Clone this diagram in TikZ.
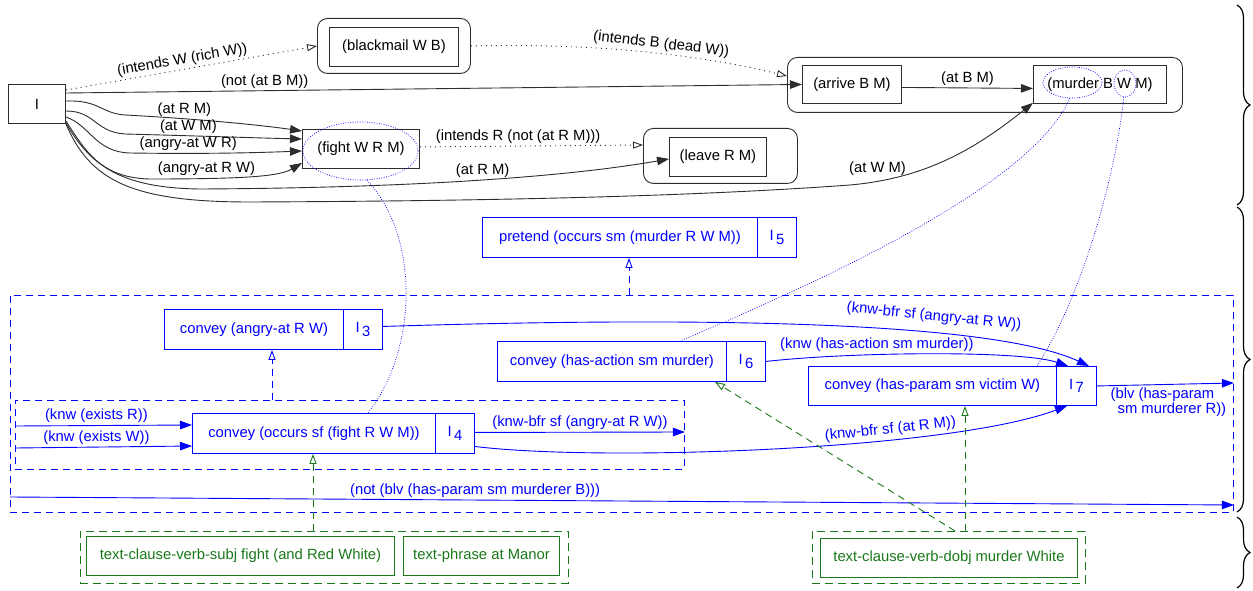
\documentclass[tikz,border=0pt]{standalone}
\usepackage{fontspec}
\setmainfont{Liberation Sans}
\usetikzlibrary{arrows.meta,calc,shapes.geometric,decorations.pathreplacing}
\definecolor{tgreen}{RGB}{25,120,25}
\definecolor{lgray}{RGB}{45,45,45}
\newcommand{\myidx}[1]{I\raisebox{-0.45ex}{\,#1}}
\begin{document}
\begin{tikzpicture}[x=1bp,y=-1bp,
  font=\fontsize{14.8bp}{17bp}\selectfont,
  bx/.style={draw=lgray, line width=0.9bp, inner sep=0, anchor=north west, text=black},
  grp/.style={draw=lgray, line width=0.9bp, rounded corners=10bp, inner sep=0, anchor=north west},
  bbx/.style={draw=blue, line width=0.9bp, inner sep=0, anchor=north west, text=blue},
  gbx/.style={draw=tgreen, line width=0.9bp, inner sep=0, anchor=north west, text=tgreen},
  bdash/.style={draw=blue, dash pattern=on 7bp off 5bp, line width=0.9bp, inner sep=0, anchor=north west},
  gdash/.style={draw=tgreen, dash pattern=on 8bp off 5bp, line width=0.9bp, inner sep=0, anchor=north west},
  ell/.style={ellipse, draw=blue, dash pattern=on 0.8bp off 1.6bp, line width=0.7bp, inner sep=0},
  earr/.style={lgray, line width=0.9bp, -{Triangle[length=12bp,width=8.5bp]}},
  dotarr/.style={lgray, line width=0.9bp, dash pattern=on 1bp off 4bp, -{Triangle[open,length=10bp,width=7bp]}},
  barr/.style={blue, line width=0.9bp, -{Triangle[length=12bp,width=8.5bp]}},
  bdarr/.style={blue, line width=0.9bp, dash pattern=on 7bp off 5bp, -{Triangle[open,length=10bp,width=7bp]}},
  gdarr/.style={tgreen, line width=0.9bp, dash pattern=on 7bp off 5bp, -{Triangle[open,length=10bp,width=7bp]}},
  bdot/.style={blue, line width=0.7bp, dash pattern=on 0.8bp off 1.6bp},
  lbl/.style={inner sep=2bp, text=black},
  blbl/.style={inner sep=2.5bp, text=blue},
  brc/.style={decorate, decoration={brace, amplitude=13bp}, line width=1.2bp, black}
]
\useasboundingbox (0,0) rectangle (1253,591);

% dashed containers
\node[bdash, minimum width=1223bp, minimum height=217bp] (big) at (10,295) {};
\node[bdash, minimum width=669bp, minimum height=69bp] (inb) at (15,400) {};
\node[gdash, minimum width=488bp, minimum height=52bp] (gl) at (80,531) {};
\node[gdash, minimum width=273bp, minimum height=52bp] (gr) at (812,531) {};

% top row
\node[bx, minimum width=57bp, minimum height=39bp] (I) at (8,84) {I};
\node[grp, minimum width=153bp, minimum height=55bp] (bg) at (317,18) {};
\node[bx, minimum width=129bp, minimum height=39bp] (bm) at (329,27) {(blackmail W B)};
\node[grp, minimum width=395bp, minimum height=55bp] (ag) at (787,57) {};
\node[bx, minimum width=99bp, minimum height=38bp] (ar) at (802,65) {(arrive B M)};
\node[bx, minimum width=133bp, minimum height=38bp] (mu) at (1033,65) {(murder B W M)};
\node[bx, minimum width=117bp, minimum height=39bp] (fi) at (302,129) {(fight W R M)};
\node[grp, minimum width=154bp, minimum height=55bp] (lg) at (643,128) {};
\node[bx, minimum width=97bp, minimum height=39bp] (le) at (669,137) {(leave R M)};

% ellipses
\node[ell, minimum width=115bp, minimum height=58bp] (fe) at (360.5,151) {};
\node[ell, minimum width=59bp, minimum height=31bp] (me) at (1072.5,82.5) {};
\node[ell, minimum width=22bp, minimum height=27bp] (we) at (1125,83.5) {};

% blue boxes
\node[bbx, minimum width=275bp, minimum height=40bp] (pm) at (482,217) {pretend (occurs sm (murder R W M))};
\node[bbx, minimum width=39bp, minimum height=40bp] (p5) at (757,217) {\myidx{5}};
\node[bbx, minimum width=179bp, minimum height=40bp] (c3) at (164,309) {convey (angry-at R W)};
\node[bbx, minimum width=39bp, minimum height=40bp] (i3) at (343,309) {\myidx{3}};
\node[bbx, minimum width=229bp, minimum height=40bp] (ha) at (497,341) {convey (has-action sm murder)};
\node[bbx, minimum width=39bp, minimum height=40bp] (i6) at (726,341) {\myidx{6}};
\node[bbx, minimum width=248bp, minimum height=39bp] (hp) at (808,366) {convey (has-param sm victim W)};
\node[bbx, minimum width=40bp, minimum height=39bp] (i7) at (1056,366) {\myidx{7}};
\node[bbx, minimum width=243bp, minimum height=40bp] (oc) at (192,413) {convey (occurs sf (fight R W M))};
\node[bbx, minimum width=39bp, minimum height=40bp] (i4) at (435,413) {\myidx{4}};

% green boxes
\node[gbx, minimum width=308bp, minimum height=39bp] (t1) at (86,536) {text-clause-verb-subj fight (and Red White)};
\node[gbx, minimum width=156bp, minimum height=39bp] (t2) at (403,536) {text-phrase at Manor};
\node[gbx, minimum width=257bp, minimum height=39bp] (t3) at (820,538) {text-clause-verb-dobj murder White};

% black connectors
\draw[dotarr] ($(I.north east)+(0,6)$) -- node[lbl, sloped, above, pos=0.47] {(intends W (rich W))} (bg.west);
\draw[dotarr] (bg.east) .. controls (600,43) and (700,55) .. node[lbl, sloped, above, pos=0.55] {(intends B (dead W))} ($(ag.north west)+(0,19)$);
\draw[earr] ($(I.north east)+(0,9)$) -- node[lbl, above, pos=0.27] {(not (at B M))} (ar.west);
\draw[earr] ($(ar.east)+(0,3)$) -- node[lbl, above] {(at B M)} ($(mu.west)+(0,4)$);
\draw[earr] ($(I.north east)+(0,17)$) .. controls (100,100) and (100,113) .. (125,115) .. controls (200,119) and (260,125) .. node[lbl, above, pos=0.28] {(at R M)} ($(fi.north west)+(0,2)$);
\draw[earr] ($(I.north east)+(0,27)$) .. controls (95,111) and (95,132) .. (125,134) .. controls (200,136) and (260,138) .. node[lbl, above, pos=0.3] {(at W M)} ($(fi.north west)+(0,10)$);
\draw[earr] ($(I.north east)+(0,33)$) .. controls (90,125) and (95,152) .. (130,153) .. controls (200,154) and (250,153) .. node[lbl, above, pos=0.3] {(angry-at W R)} ($(fi.north west)+(0,22)$);
\draw[earr] ($(I.north east)+(0,37)$) .. controls (85,150) and (100,178) .. (150,179) .. controls (250,179) and (280,176) .. node[lbl, above, pos=0.22] {(angry-at R W)} ($(fi.north west)+(0,34)$);
\draw[dotarr] ($(fi.east)+(0,-2)$) -- node[lbl, above, pos=0.44] {(intends R (not (at R M)))} ($(lg.north west)+(0,17)$);
\draw[earr] ($(I.south east)+(0,-1)$) .. controls (90,165) and (120,188) .. (200,189) .. controls (400,188) and (560,178) .. node[lbl, above, pos=0.53] {(at R M)} ($(le.west)+(0,2)$);
\draw[earr] (I.south east) .. controls (90,180) and (130,202) .. (250,202) .. controls (500,201) and (700,196) .. (850,185) .. controls (930,178) and (980,145) .. node[lbl, above=3bp, pos=0.12] {(at W M)} ($(mu.south west)+(0,-1)$);

% blue dotted links
\draw[bdot] (fe.-78) .. controls (420,235) and (418,350) .. ($(oc.north west)+(176,0)$);
\draw[bdot] (me.-100) .. controls (1030,190) and (800,290) .. ($(ha.north west)+(183,0)$);
\draw[bdot] (we.-95) .. controls (1115,180) and (1080,300) .. ($(hp.north west)+(229,0)$);

% blue connectors
\draw[barr] ($(inb.north west)+(0,26)$) -- node[blbl, above, pos=0.46] {(knw (exists R))} ($(oc.north west)+(0,12)$);
\draw[barr] ($(inb.north west)+(0,48)$) -- node[blbl, above, pos=0.46] {(knw (exists W))} ($(oc.north west)+(0,33)$);
\draw[barr] ($(i4.east)+(0,-1)$) -- node[blbl, above] {(knw-bfr sf (angry-at R W))} ($(inb.north east)+(0,32)$);
\draw[barr] ($(i4.east)+(0,13)$) .. controls (600,462) and (950,450) .. node[blbl, sloped, above, pos=0.67] {(knw-bfr sf (at R M))} ($(i7.south west)+(11,0)$);
\draw[barr] ($(i3.east)+(0,-3)$) .. controls (750,315) and (1000,325) .. node[blbl, sloped, above=7bp, pos=0.64] {(knw-bfr sf (angry-at R W))} ($(i7.north west)+(33,0)$);
\draw[barr] (i6.east) .. controls (850,352) and (1020,350) .. node[blbl, above, pos=0.35] {(knw (has-action sm murder))} ($(i7.north west)+(12,0)$);
\draw[barr] (i7.east) -- node[blbl, below, align=left, xshift=3bp, font=\fontsize{14.8bp}{15bp}\selectfont] {(blv (has-param\\\hspace*{7bp}sm murderer R))} ($(big.north east)+(0,88)$);
\draw[barr] ($(big.north west)+(0,202)$) -- node[blbl, above, pos=0.38] {(not (blv (has-param sm murderer B)))} ($(big.north east)+(0,210)$);
\draw[bdarr] ($(inb.north west)+(257,0)$) -- ($(c3.south west)+(108,0)$);
\draw[bdarr] ($(big.north west)+(619,0)$) -- ($(pm.south west)+(147,0)$);

% green connectors
\draw[gdarr] ($(gl.north west)+(233,0)$) -- ($(oc.south west)+(121,0)$);
\draw[gdarr] ($(gr.north west)+(153,0)$) -- ($(hp.south west)+(157,0)$);
\draw[gdarr] ($(gr.north west)+(143,0)$) -- ($(ha.south west)+(218,0)$);

% braces
\draw[brc] (1237,5) -- (1237,205);
\draw[brc] (1237,207) -- (1237,512);
\draw[brc] (1237,517) -- (1237,588);
\end{tikzpicture}
\end{document}
